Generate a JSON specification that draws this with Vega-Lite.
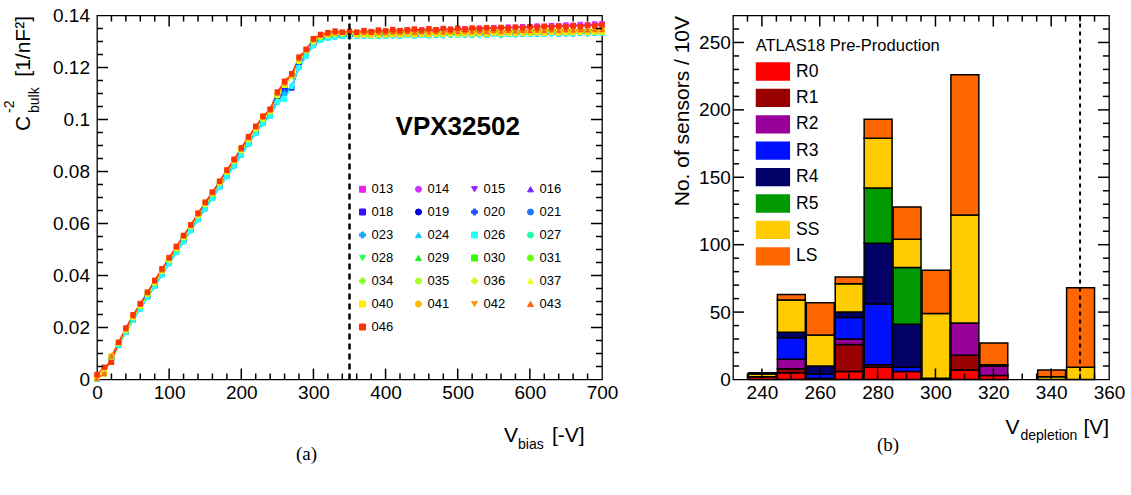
{
  "$schema": "https://vega.github.io/schema/vega-lite/v6.json",
  "background": "white",
  "padding": {"left": 1, "top": 5.5, "right": 2, "bottom": 2},
  "bounds": "flush",
  "spacing": 131,
  "config": {
    "font": "Liberation Sans",
    "view": {"stroke": "black", "strokeWidth": 1.3},
    "axis": {"grid": false, "domain": false, "ticks": false, "tickSize": 0, "labelColor": "black", "labelFont": "Liberation Sans", "labelFontSize": 19, "titleColor": "black", "titleFont": "Liberation Sans", "titleFontWeight": "normal", "labelFlush": false, "labelOverlap": false},
    "legend": {"labelColor": "black", "titleColor": "black", "labelFont": "Liberation Sans", "titleFont": "Liberation Sans"}
  },
  "resolve": {"scale": {"color": "independent", "shape": "independent", "x": "independent", "y": "independent"}, "legend": {"color": "independent", "shape": "independent"}},
  "datasets": {
    "lxmaj": [{"t": 100}, {"t": 200}, {"t": 300}, {"t": 400}, {"t": 500}, {"t": 600}],
    "lxmin": [{"t": 20}, {"t": 40}, {"t": 60}, {"t": 80}, {"t": 120}, {"t": 140}, {"t": 160}, {"t": 180}, {"t": 220}, {"t": 240}, {"t": 260}, {"t": 280}, {"t": 320}, {"t": 340}, {"t": 360}, {"t": 380}, {"t": 420}, {"t": 440}, {"t": 460}, {"t": 480}, {"t": 520}, {"t": 540}, {"t": 560}, {"t": 580}, {"t": 620}, {"t": 640}, {"t": 660}, {"t": 680}],
    "lymaj": [{"t": 0.02}, {"t": 0.04}, {"t": 0.06}, {"t": 0.08}, {"t": 0.1}, {"t": 0.12}],
    "lymin": [{"t": 0.005}, {"t": 0.01}, {"t": 0.015}, {"t": 0.025}, {"t": 0.03}, {"t": 0.035}, {"t": 0.045}, {"t": 0.05}, {"t": 0.055}, {"t": 0.065}, {"t": 0.07}, {"t": 0.075}, {"t": 0.085}, {"t": 0.09}, {"t": 0.095}, {"t": 0.105}, {"t": 0.11}, {"t": 0.115}, {"t": 0.125}, {"t": 0.13}, {"t": 0.135}],
    "rxmaj": [{"t": 240}, {"t": 260}, {"t": 280}, {"t": 300}, {"t": 320}, {"t": 340}],
    "rxmin": [{"t": 235}, {"t": 245}, {"t": 250}, {"t": 255}, {"t": 265}, {"t": 270}, {"t": 275}, {"t": 285}, {"t": 290}, {"t": 295}, {"t": 305}, {"t": 310}, {"t": 315}, {"t": 325}, {"t": 330}, {"t": 335}, {"t": 345}, {"t": 350}, {"t": 355}],
    "rymaj": [{"t": 50}, {"t": 100}, {"t": 150}, {"t": 200}, {"t": 250}],
    "rymin": [{"t": 10}, {"t": 20}, {"t": 30}, {"t": 40}, {"t": 60}, {"t": 70}, {"t": 80}, {"t": 90}, {"t": 110}, {"t": 120}, {"t": 130}, {"t": 140}, {"t": 160}, {"t": 170}, {"t": 180}, {"t": 190}, {"t": 210}, {"t": 220}, {"t": 230}, {"t": 240}, {"t": 260}],
    "cv": [
      {"s": "013", "v": [0,10,20,30,40,50,60,70,80,90,100,110,120,130,140,150,160,170,180,190,200,210,220,230,240,250,260,270,280,290,300,310,320,330,340,350,360,370,380,390,400,410,420,430,440,450,460,470,480,490,500,510,520,530,540,550,560,570,580,590,600,610,620,630,640,650,660,670,680,690,700], "c": [0.0008,0.003,0.0085,0.014,0.019,0.0238,0.0283,0.0328,0.0372,0.0416,0.046,0.0503,0.0546,0.0588,0.0631,0.0673,0.0714,0.0756,0.0797,0.0839,0.0881,0.0923,0.0964,0.1002,0.1031,0.1092,0.1132,0.1168,0.1225,0.1265,0.13,0.1318,0.1324,0.1328,0.133,0.1331,0.1333,0.1335,0.1334,0.1337,0.1336,0.1339,0.1338,0.1341,0.134,0.1343,0.1342,0.1345,0.1344,0.1347,0.1346,0.1349,0.1348,0.1351,0.135,0.1353,0.1352,0.1355,0.1354,0.1357,0.1356,0.1359,0.1358,0.1361,0.136,0.1363,0.1362,0.1365,0.1364,0.1367,0.1368]},
      {"s": "014", "v": [0,10,20,30,40,50,60,70,80,90,100,110,120,130,140,150,160,170,180,190,200,210,220,230,240,250,260,270,280,290,300,310,320,330,340,350,360,370,380,390,400,410,420,430,440,450,460,470,480,490,500,510,520,530,540,550,560,570,580,590,600,610,620,630,640,650,660,670,680,690,700], "c": [0.0008,0.003,0.0085,0.014,0.019,0.0238,0.0283,0.0328,0.0372,0.0416,0.046,0.0503,0.0546,0.0588,0.0631,0.0673,0.0714,0.0756,0.0797,0.0839,0.0881,0.0923,0.0964,0.1002,0.1031,0.1092,0.1132,0.1168,0.1225,0.1265,0.13,0.1318,0.1324,0.1328,0.133,0.1331,0.1333,0.1335,0.1334,0.1337,0.1336,0.1339,0.1338,0.1341,0.134,0.1343,0.1342,0.1345,0.1344,0.1347,0.1346,0.1349,0.1348,0.1351,0.135,0.1353,0.1352,0.1355,0.1354,0.1357,0.1356,0.1359,0.1358,0.1361,0.136,0.1363,0.1362,0.1365,0.1364,0.1367,0.1368]},
      {"s": "015", "v": [0,10,20,30,40,50,60,70,80,90,100,110,120,130,140,150,160,170,180,190,200,210,220,230,240,250,260,270,280,290,300,310,320,330,340,350,360,370,380,390,400,410,420,430,440,450,460,470,480,490,500,510,520,530,540,550,560,570,580,590,600,610,620,630,640,650,660,670,680,690,700], "c": [0.0008,0.003,0.0085,0.014,0.019,0.0238,0.0283,0.0328,0.0372,0.0416,0.046,0.0503,0.0546,0.0588,0.0631,0.0673,0.0714,0.0756,0.0797,0.0839,0.0881,0.0923,0.0964,0.1002,0.1031,0.1092,0.1132,0.1168,0.1225,0.1265,0.13,0.1318,0.1324,0.1328,0.133,0.1331,0.133,0.1331,0.1329,0.1331,0.133,0.1332,0.1331,0.1333,0.1331,0.1333,0.1332,0.1334,0.1332,0.1335,0.1333,0.1335,0.1334,0.1336,0.1334,0.1337,0.1335,0.1337,0.1336,0.1338,0.1337,0.1339,0.1337,0.134,0.1338,0.134,0.1339,0.1341,0.134,0.1342,0.1341]},
      {"s": "016", "v": [0,10,20,30,40,50,60,70,80,90,100,110,120,130,140,150,160,170,180,190,200,210,220,230,240,250,260,270,280,290,300,310,320,330,340,350,360,370,380,390,400,410,420,430,440,450,460,470,480,490,500,510,520,530,540,550,560,570,580,590,600,610,620,630,640,650,660,670,680,690,700], "c": [0.0008,0.003,0.0085,0.014,0.019,0.0238,0.0283,0.0328,0.0372,0.0416,0.046,0.0503,0.0546,0.0588,0.0631,0.0673,0.0714,0.0756,0.0797,0.0839,0.0881,0.0923,0.0964,0.1002,0.1031,0.1092,0.1132,0.1168,0.1225,0.1265,0.13,0.1318,0.1324,0.1328,0.133,0.1331,0.1325,0.1326,0.1324,0.1326,0.1325,0.1327,0.1326,0.1328,0.1326,0.1328,0.1327,0.1329,0.1327,0.133,0.1328,0.133,0.1329,0.1331,0.1329,0.1332,0.133,0.1332,0.1331,0.1333,0.1332,0.1334,0.1332,0.1335,0.1333,0.1335,0.1334,0.1336,0.1335,0.1337,0.1336]},
      {"s": "018", "v": [0,10,20,30,40,50,60,70,80,90,100,110,120,130,140,150,160,170,180,190,200,210,220,230,240,250,260,270,280,290,300,310,320,330,340,350,360,370,380,390,400,410,420,430,440,450,460,470,480,490,500,510,520,530,540,550,560,570,580,590,600,610,620,630,640,650,660,670,680,690,700], "c": [0.0003,0.0027,0.0083,0.0135,0.0184,0.023,0.0274,0.0318,0.0361,0.0405,0.0448,0.0491,0.0533,0.0575,0.0617,0.0659,0.07,0.0742,0.0783,0.0824,0.0866,0.0908,0.0949,0.0988,0.1016,0.1075,0.1112,0.1122,0.1205,0.125,0.129,0.131,0.1318,0.1322,0.1324,0.1325,0.1325,0.1326,0.1324,0.1326,0.1325,0.1327,0.1326,0.1328,0.1326,0.1328,0.1327,0.1329,0.1327,0.133,0.1328,0.133,0.1329,0.1331,0.1329,0.1332,0.133,0.1332,0.1331,0.1333,0.1332,0.1334,0.1332,0.1335,0.1333,0.1335,0.1334,0.1336,0.1335,0.1337,0.1336]},
      {"s": "019", "v": [0,10,20,30,40,50,60,70,80,90,100,110,120,130,140,150,160,170,180,190,200,210,220,230,240,250,260,270,280,290,300,310,320,330,340,350,360,370,380,390,400,410,420,430,440,450,460,470,480,490,500,510,520,530,540,550,560,570,580,590,600,610,620,630,640,650,660,670,680,690,700], "c": [0.0003,0.0027,0.0083,0.0135,0.0184,0.023,0.0274,0.0318,0.0361,0.0405,0.0448,0.0491,0.0533,0.0575,0.0617,0.0659,0.07,0.0742,0.0783,0.0824,0.0866,0.0908,0.0949,0.0988,0.1016,0.1075,0.1112,0.1122,0.1205,0.125,0.129,0.131,0.1318,0.1322,0.1324,0.1325,0.1321,0.1322,0.132,0.1322,0.1321,0.1323,0.1322,0.1324,0.1322,0.1324,0.1323,0.1325,0.1323,0.1326,0.1324,0.1326,0.1325,0.1327,0.1325,0.1328,0.1326,0.1328,0.1327,0.1329,0.1328,0.133,0.1328,0.1331,0.1329,0.1331,0.133,0.1332,0.1331,0.1333,0.1332]},
      {"s": "020", "v": [0,10,20,30,40,50,60,70,80,90,100,110,120,130,140,150,160,170,180,190,200,210,220,230,240,250,260,270,280,290,300,310,320,330,340,350,360,370,380,390,400,410,420,430,440,450,460,470,480,490,500,510,520,530,540,550,560,570,580,590,600,610,620,630,640,650,660,670,680,690,700], "c": [0.0003,0.0027,0.0083,0.0135,0.0184,0.023,0.0274,0.0318,0.0361,0.0405,0.0448,0.0491,0.0533,0.0575,0.0617,0.0659,0.07,0.0742,0.0783,0.0824,0.0866,0.0908,0.0949,0.0988,0.1016,0.1075,0.1112,0.1122,0.1205,0.125,0.129,0.131,0.1318,0.1322,0.1324,0.1325,0.1325,0.1326,0.1324,0.1326,0.1325,0.1327,0.1326,0.1328,0.1326,0.1328,0.1327,0.1329,0.1327,0.133,0.1328,0.133,0.1329,0.1331,0.1329,0.1332,0.133,0.1332,0.1331,0.1333,0.1332,0.1334,0.1332,0.1335,0.1333,0.1335,0.1334,0.1336,0.1335,0.1337,0.1336]},
      {"s": "021", "v": [0,10,20,30,40,50,60,70,80,90,100,110,120,130,140,150,160,170,180,190,200,210,220,230,240,250,260,270,280,290,300,310,320,330,340,350,360,370,380,390,400,410,420,430,440,450,460,470,480,490,500,510,520,530,540,550,560,570,580,590,600,610,620,630,640,650,660,670,680,690,700], "c": [0.0002,0.0025,0.008,0.0133,0.0182,0.0228,0.0272,0.0316,0.0359,0.0403,0.0446,0.0489,0.0531,0.0573,0.0615,0.0657,0.0698,0.074,0.0781,0.0822,0.0864,0.0906,0.0947,0.0985,0.1013,0.1068,0.11,0.1128,0.12,0.1245,0.1285,0.1305,0.1313,0.1318,0.132,0.1321,0.1321,0.1322,0.132,0.1322,0.1321,0.1323,0.1322,0.1324,0.1322,0.1324,0.1323,0.1325,0.1323,0.1326,0.1324,0.1326,0.1325,0.1327,0.1325,0.1328,0.1326,0.1328,0.1327,0.1329,0.1328,0.133,0.1328,0.1331,0.1329,0.1331,0.133,0.1332,0.1331,0.1333,0.1332]},
      {"s": "023", "v": [0,10,20,30,40,50,60,70,80,90,100,110,120,130,140,150,160,170,180,190,200,210,220,230,240,250,260,270,280,290,300,310,320,330,340,350,360,370,380,390,400,410,420,430,440,450,460,470,480,490,500,510,520,530,540,550,560,570,580,590,600,610,620,630,640,650,660,670,680,690,700], "c": [0.0002,0.0025,0.008,0.0133,0.0182,0.0228,0.0272,0.0316,0.0359,0.0403,0.0446,0.0489,0.0531,0.0573,0.0615,0.0657,0.0698,0.074,0.0781,0.0822,0.0864,0.0906,0.0947,0.0985,0.1013,0.1068,0.11,0.1128,0.12,0.1245,0.1285,0.1305,0.1313,0.1318,0.132,0.1321,0.1321,0.1322,0.132,0.1322,0.1321,0.1323,0.1322,0.1324,0.1322,0.1324,0.1323,0.1325,0.1323,0.1326,0.1324,0.1326,0.1325,0.1327,0.1325,0.1328,0.1326,0.1328,0.1327,0.1329,0.1328,0.133,0.1328,0.1331,0.1329,0.1331,0.133,0.1332,0.1331,0.1333,0.1332]},
      {"s": "024", "v": [0,10,20,30,40,50,60,70,80,90,100,110,120,130,140,150,160,170,180,190,200,210,220,230,240,250,260,270,280,290,300,310,320,330,340,350,360,370,380,390,400,410,420,430,440,450,460,470,480,490,500,510,520,530,540,550,560,570,580,590,600,610,620,630,640,650,660,670,680,690,700], "c": [0.0002,0.0025,0.008,0.0133,0.0182,0.0228,0.0272,0.0316,0.0359,0.0403,0.0446,0.0489,0.0531,0.0573,0.0615,0.0657,0.0698,0.074,0.0781,0.0822,0.0864,0.0906,0.0947,0.0985,0.1013,0.1068,0.11,0.1128,0.12,0.1245,0.1285,0.1305,0.1313,0.1318,0.132,0.1321,0.1321,0.1322,0.132,0.1322,0.1321,0.1323,0.1322,0.1324,0.1322,0.1324,0.1323,0.1325,0.1323,0.1326,0.1324,0.1326,0.1325,0.1327,0.1325,0.1328,0.1326,0.1328,0.1327,0.1329,0.1328,0.133,0.1328,0.1331,0.1329,0.1331,0.133,0.1332,0.1331,0.1333,0.1332]},
      {"s": "026", "v": [0,10,20,30,40,50,60,70,80,90,100,110,120,130,140,150,160,170,180,190,200,210,220,230,240,250,260,270,280,290,300,310,320,330,340,350,360,370,380,390,400,410,420,430,440,450,460,470,480,490,500,510,520,530,540,550,560,570,580,590,600,610,620,630,640,650,660,670,680,690,700], "c": [0.0002,0.0025,0.008,0.0133,0.0182,0.0228,0.0272,0.0316,0.0359,0.0403,0.0446,0.0489,0.0531,0.0573,0.0615,0.0657,0.0698,0.074,0.0781,0.0822,0.0864,0.0906,0.0947,0.0985,0.1013,0.1068,0.1078,0.1128,0.12,0.1245,0.1285,0.1305,0.1313,0.1318,0.132,0.1321,0.1321,0.1322,0.132,0.1322,0.1321,0.1323,0.1322,0.1324,0.1322,0.1324,0.1323,0.1325,0.1323,0.1326,0.1324,0.1326,0.1325,0.1327,0.1325,0.1328,0.1326,0.1328,0.1327,0.1329,0.1328,0.133,0.1328,0.1331,0.1329,0.1331,0.133,0.1332,0.1331,0.1333,0.1332]},
      {"s": "027", "v": [0,10,20,30,40,50,60,70,80,90,100,110,120,130,140,150,160,170,180,190,200,210,220,230,240,250,260,270,280,290,300,310,320,330,340,350,360,370,380,390,400,410,420,430,440,450,460,470,480,490,500,510,520,530,540,550,560,570,580,590,600,610,620,630,640,650,660,670,680,690,700], "c": [0.0008,0.003,0.0085,0.014,0.019,0.0238,0.0283,0.0328,0.0372,0.0416,0.046,0.0503,0.0546,0.0588,0.0631,0.0673,0.0714,0.0756,0.0797,0.0839,0.0881,0.0923,0.0964,0.1002,0.1031,0.1092,0.1132,0.1168,0.1225,0.1265,0.13,0.1318,0.1324,0.1328,0.133,0.1331,0.1325,0.1326,0.1324,0.1326,0.1325,0.1327,0.1326,0.1328,0.1326,0.1328,0.1327,0.1329,0.1327,0.133,0.1328,0.133,0.1329,0.1331,0.1329,0.1332,0.133,0.1332,0.1331,0.1333,0.1332,0.1334,0.1332,0.1335,0.1333,0.1335,0.1334,0.1336,0.1335,0.1337,0.1336]},
      {"s": "028", "v": [0,10,20,30,40,50,60,70,80,90,100,110,120,130,140,150,160,170,180,190,200,210,220,230,240,250,260,270,280,290,300,310,320,330,340,350,360,370,380,390,400,410,420,430,440,450,460,470,480,490,500,510,520,530,540,550,560,570,580,590,600,610,620,630,640,650,660,670,680,690,700], "c": [0.0008,0.003,0.0085,0.014,0.019,0.0238,0.0283,0.0328,0.0372,0.0416,0.046,0.0503,0.0546,0.0588,0.0631,0.0673,0.0714,0.0756,0.0797,0.0839,0.0881,0.0923,0.0964,0.1002,0.1031,0.1092,0.1132,0.1168,0.1225,0.1265,0.13,0.1318,0.1324,0.1328,0.133,0.1331,0.133,0.1331,0.1329,0.1331,0.133,0.1332,0.1331,0.1333,0.1331,0.1333,0.1332,0.1334,0.1332,0.1335,0.1333,0.1335,0.1334,0.1336,0.1334,0.1337,0.1335,0.1337,0.1336,0.1338,0.1337,0.1339,0.1337,0.134,0.1338,0.134,0.1339,0.1341,0.134,0.1342,0.1341]},
      {"s": "029", "v": [0,10,20,30,40,50,60,70,80,90,100,110,120,130,140,150,160,170,180,190,200,210,220,230,240,250,260,270,280,290,300,310,320,330,340,350,360,370,380,390,400,410,420,430,440,450,460,470,480,490,500,510,520,530,540,550,560,570,580,590,600,610,620,630,640,650,660,670,680,690,700], "c": [0.0008,0.003,0.0085,0.014,0.019,0.0238,0.0283,0.0328,0.0372,0.0416,0.046,0.0503,0.0546,0.0588,0.0631,0.0673,0.0714,0.0756,0.0797,0.0839,0.0881,0.0923,0.0964,0.1002,0.1031,0.1092,0.1132,0.1168,0.1225,0.1265,0.13,0.1318,0.1324,0.1328,0.133,0.1331,0.133,0.1331,0.1329,0.1331,0.133,0.1332,0.1331,0.1333,0.1331,0.1333,0.1332,0.1334,0.1332,0.1335,0.1333,0.1335,0.1334,0.1336,0.1334,0.1337,0.1335,0.1337,0.1336,0.1338,0.1337,0.1339,0.1337,0.134,0.1338,0.134,0.1339,0.1341,0.134,0.1342,0.1341]},
      {"s": "030", "v": [0,10,20,30,40,50,60,70,80,90,100,110,120,130,140,150,160,170,180,190,200,210,220,230,240,250,260,270,280,290,300,310,320,330,340,350,360,370,380,390,400,410,420,430,440,450,460,470,480,490,500,510,520,530,540,550,560,570,580,590,600,610,620,630,640,650,660,670,680,690,700], "c": [0.0008,0.003,0.0085,0.014,0.019,0.0238,0.0283,0.0328,0.0372,0.0416,0.046,0.0503,0.0546,0.0588,0.0631,0.0673,0.0714,0.0756,0.0797,0.0839,0.0881,0.0923,0.0964,0.1002,0.1031,0.1092,0.1132,0.1168,0.1225,0.1265,0.13,0.1318,0.1324,0.1328,0.133,0.1331,0.133,0.1331,0.1329,0.1331,0.133,0.1332,0.1331,0.1333,0.1331,0.1333,0.1332,0.1334,0.1332,0.1335,0.1333,0.1335,0.1334,0.1336,0.1334,0.1337,0.1335,0.1337,0.1336,0.1338,0.1337,0.1339,0.1337,0.134,0.1338,0.134,0.1339,0.1341,0.134,0.1342,0.1341]},
      {"s": "031", "v": [0,10,20,30,40,50,60,70,80,90,100,110,120,130,140,150,160,170,180,190,200,210,220,230,240,250,260,270,280,290,300,310,320,330,340,350,360,370,380,390,400,410,420,430,440,450,460,470,480,490,500,510,520,530,540,550,560,570,580,590,600,610,620,630,640,650,660,670,680,690,700], "c": [0.0008,0.003,0.0085,0.014,0.019,0.0238,0.0283,0.0328,0.0372,0.0416,0.046,0.0503,0.0546,0.0588,0.0631,0.0673,0.0714,0.0756,0.0797,0.0839,0.0881,0.0923,0.0964,0.1002,0.1031,0.1092,0.1132,0.1168,0.1225,0.1265,0.13,0.1318,0.1324,0.1328,0.133,0.1331,0.1335,0.1336,0.1334,0.1336,0.1335,0.1337,0.1336,0.1338,0.1336,0.1338,0.1337,0.1339,0.1337,0.134,0.1338,0.134,0.1339,0.1341,0.1339,0.1342,0.134,0.1342,0.1341,0.1343,0.1342,0.1344,0.1342,0.1345,0.1343,0.1345,0.1344,0.1346,0.1345,0.1347,0.1346]},
      {"s": "034", "v": [0,10,20,30,40,50,60,70,80,90,100,110,120,130,140,150,160,170,180,190,200,210,220,230,240,250,260,270,280,290,300,310,320,330,340,350,360,370,380,390,400,410,420,430,440,450,460,470,480,490,500,510,520,530,540,550,560,570,580,590,600,610,620,630,640,650,660,670,680,690,700], "c": [0.0008,0.003,0.0085,0.014,0.019,0.0238,0.0283,0.0328,0.0372,0.0416,0.046,0.0503,0.0546,0.0588,0.0631,0.0673,0.0714,0.0756,0.0797,0.0839,0.0881,0.0923,0.0964,0.1002,0.1031,0.1092,0.1132,0.1168,0.1225,0.1265,0.13,0.1318,0.1324,0.1328,0.133,0.1331,0.133,0.1331,0.1329,0.1331,0.133,0.1332,0.1331,0.1333,0.1331,0.1333,0.1332,0.1334,0.1332,0.1335,0.1333,0.1335,0.1334,0.1336,0.1334,0.1337,0.1335,0.1337,0.1336,0.1338,0.1337,0.1339,0.1337,0.134,0.1338,0.134,0.1339,0.1341,0.134,0.1342,0.1341]},
      {"s": "035", "v": [0,10,20,30,40,50,60,70,80,90,100,110,120,130,140,150,160,170,180,190,200,210,220,230,240,250,260,270,280,290,300,310,320,330,340,350,360,370,380,390,400,410,420,430,440,450,460,470,480,490,500,510,520,530,540,550,560,570,580,590,600,610,620,630,640,650,660,670,680,690,700], "c": [0.0008,0.003,0.0085,0.014,0.019,0.0238,0.0283,0.0328,0.0372,0.0416,0.046,0.0503,0.0546,0.0588,0.0631,0.0673,0.0714,0.0756,0.0797,0.0839,0.0881,0.0923,0.0964,0.1002,0.1031,0.1092,0.1132,0.1168,0.1225,0.1265,0.13,0.1318,0.1324,0.1328,0.133,0.1331,0.1335,0.1336,0.1334,0.1336,0.1335,0.1337,0.1336,0.1338,0.1336,0.1338,0.1337,0.1339,0.1337,0.134,0.1338,0.134,0.1339,0.1341,0.1339,0.1342,0.134,0.1342,0.1341,0.1343,0.1342,0.1344,0.1342,0.1345,0.1343,0.1345,0.1344,0.1346,0.1345,0.1347,0.1346]},
      {"s": "036", "v": [0,10,20,30,40,50,60,70,80,90,100,110,120,130,140,150,160,170,180,190,200,210,220,230,240,250,260,270,280,290,300,310,320,330,340,350,360,370,380,390,400,410,420,430,440,450,460,470,480,490,500,510,520,530,540,550,560,570,580,590,600,610,620,630,640,650,660,670,680,690,700], "c": [0.0008,0.003,0.0085,0.014,0.019,0.0238,0.0283,0.0328,0.0372,0.0416,0.046,0.0503,0.0546,0.0588,0.0631,0.0673,0.0714,0.0756,0.0797,0.0839,0.0881,0.0923,0.0964,0.1002,0.1031,0.1092,0.1132,0.1168,0.1225,0.1265,0.13,0.1318,0.1324,0.1328,0.133,0.1331,0.1335,0.1336,0.1334,0.1336,0.1335,0.1337,0.1336,0.1338,0.1336,0.1338,0.1337,0.1339,0.1337,0.134,0.1338,0.134,0.1339,0.1341,0.1339,0.1342,0.134,0.1342,0.1341,0.1343,0.1342,0.1344,0.1342,0.1345,0.1343,0.1345,0.1344,0.1346,0.1345,0.1347,0.1346]},
      {"s": "037", "v": [0,10,20,30,40,50,60,70,80,90,100,110,120,130,140,150,160,170,180,190,200,210,220,230,240,250,260,270,280,290,300,310,320,330,340,350,360,370,380,390,400,410,420,430,440,450,460,470,480,490,500,510,520,530,540,550,560,570,580,590,600,610,620,630,640,650,660,670,680,690,700], "c": [0.0008,0.003,0.0085,0.014,0.019,0.0238,0.0283,0.0328,0.0372,0.0416,0.046,0.0503,0.0546,0.0588,0.0631,0.0673,0.0714,0.0756,0.0797,0.0839,0.0881,0.0923,0.0964,0.1002,0.1031,0.1092,0.1132,0.1168,0.1225,0.1265,0.13,0.1318,0.1324,0.1328,0.133,0.1331,0.133,0.1331,0.1329,0.1331,0.133,0.1332,0.1331,0.1333,0.1331,0.1333,0.1332,0.1334,0.1332,0.1335,0.1333,0.1335,0.1334,0.1336,0.1334,0.1337,0.1335,0.1337,0.1336,0.1338,0.1337,0.1339,0.1337,0.134,0.1338,0.134,0.1339,0.1341,0.134,0.1342,0.1341]},
      {"s": "040", "v": [0,10,20,30,40,50,60,70,80,90,100,110,120,130,140,150,160,170,180,190,200,210,220,230,240,250,260,270,280,290,300,310,320,330,340,350,360,370,380,390,400,410,420,430,440,450,460,470,480,490,500,510,520,530,540,550,560,570,580,590,600,610,620,630,640,650,660,670,680,690,700], "c": [0.0004,0.0022,0.009,0.0142,0.0194,0.0243,0.0288,0.0333,0.0377,0.0421,0.0465,0.0508,0.0551,0.0592,0.0636,0.0678,0.0718,0.076,0.0802,0.0843,0.0886,0.0929,0.097,0.1008,0.1036,0.11,0.114,0.1172,0.1233,0.1268,0.1306,0.1323,0.1329,0.1333,0.1334,0.1335,0.1325,0.1326,0.1324,0.1326,0.1325,0.1327,0.1326,0.1328,0.1326,0.1328,0.1327,0.1329,0.1327,0.133,0.1328,0.133,0.1329,0.1331,0.1329,0.1332,0.133,0.1332,0.1331,0.1333,0.1332,0.1334,0.1332,0.1335,0.1333,0.1335,0.1334,0.1336,0.1335,0.1337,0.1336]},
      {"s": "041", "v": [0,10,20,30,40,50,60,70,80,90,100,110,120,130,140,150,160,170,180,190,200,210,220,230,240,250,260,270,280,290,300,310,320,330,340,350,360,370,380,390,400,410,420,430,440,450,460,470,480,490,500,510,520,530,540,550,560,570,580,590,600,610,620,630,640,650,660,670,680,690,700], "c": [0.0004,0.0022,0.009,0.0142,0.0194,0.0243,0.0288,0.0333,0.0377,0.0421,0.0465,0.0508,0.0551,0.0592,0.0636,0.0678,0.0718,0.076,0.0802,0.0843,0.0886,0.0929,0.097,0.1008,0.1036,0.11,0.114,0.1172,0.1233,0.1268,0.1306,0.1323,0.1329,0.1333,0.1334,0.1335,0.133,0.1331,0.1329,0.1331,0.133,0.1332,0.1331,0.1333,0.1331,0.1333,0.1332,0.1334,0.1332,0.1335,0.1333,0.1335,0.1334,0.1336,0.1334,0.1337,0.1335,0.1337,0.1336,0.1338,0.1337,0.1339,0.1337,0.134,0.1338,0.134,0.1339,0.1341,0.134,0.1342,0.1341]},
      {"s": "042", "v": [0,10,20,30,40,50,60,70,80,90,100,110,120,130,140,150,160,170,180,190,200,210,220,230,240,250,260,270,280,290,300,310,320,330,340,350,360,370,380,390,400,410,420,430,440,450,460,470,480,490,500,510,520,530,540,550,560,570,580,590,600,610,620,630,640,650,660,670,680,690,700], "c": [0.0004,0.0022,0.009,0.0142,0.0194,0.0243,0.0288,0.0333,0.0377,0.0421,0.0465,0.0508,0.0551,0.0592,0.0636,0.0678,0.0718,0.076,0.0802,0.0843,0.0886,0.0929,0.097,0.1008,0.1036,0.11,0.114,0.1172,0.1233,0.1268,0.1306,0.1323,0.1329,0.1333,0.1334,0.1335,0.1335,0.1336,0.1334,0.1336,0.1335,0.1337,0.1336,0.1338,0.1336,0.1338,0.1337,0.1339,0.1337,0.134,0.1338,0.134,0.1339,0.1341,0.1339,0.1342,0.134,0.1342,0.1341,0.1343,0.1342,0.1344,0.1342,0.1345,0.1343,0.1345,0.1344,0.1346,0.1345,0.1347,0.1346]},
      {"s": "043", "v": [0,10,20,30,40,50,60,70,80,90,100,110,120,130,140,150,160,170,180,190,200,210,220,230,240,250,260,270,280,290,300,310,320,330,340,350,360,370,380,390,400,410,420,430,440,450,460,470,480,490,500,510,520,530,540,550,560,570,580,590,600,610,620,630,640,650,660,670,680,690,700], "c": [0.0004,0.0022,0.009,0.0142,0.0194,0.0243,0.0288,0.0333,0.0377,0.0421,0.0465,0.0508,0.0551,0.0592,0.0636,0.0678,0.0718,0.076,0.0802,0.0843,0.0886,0.0929,0.097,0.1008,0.1036,0.11,0.114,0.1172,0.1233,0.1268,0.1306,0.1323,0.1329,0.1333,0.1334,0.1335,0.1335,0.1336,0.1334,0.1336,0.1335,0.1337,0.1336,0.1338,0.1336,0.1338,0.1337,0.1339,0.1337,0.134,0.1338,0.134,0.1339,0.1341,0.1339,0.1342,0.134,0.1342,0.1341,0.1343,0.1342,0.1344,0.1342,0.1345,0.1343,0.1345,0.1344,0.1346,0.1345,0.1347,0.1346]},
      {"s": "046", "v": [0,10,20,30,40,50,60,70,80,90,100,110,120,130,140,150,160,170,180,190,200,210,220,230,240,250,260,270,280,290,300,310,320,330,340,350,360,370,380,390,400,410,420,430,440,450,460,470,480,490,500,510,520,530,540,550,560,570,580,590,600,610,620,630,640,650,660,670,680,690,700], "c": [0.0019,0.0047,0.0066,0.0143,0.0198,0.0249,0.0292,0.0336,0.0381,0.0426,0.0469,0.0512,0.0554,0.0595,0.064,0.0682,0.0721,0.0763,0.0806,0.0847,0.0891,0.0934,0.0974,0.1013,0.104,0.1106,0.1147,0.1176,0.124,0.127,0.1311,0.1327,0.1334,0.134,0.1336,0.1339,0.1336,0.1342,0.1338,0.1344,0.1341,0.1346,0.1342,0.1345,0.1348,0.1344,0.1349,0.1345,0.135,0.1346,0.1351,0.1347,0.1352,0.1349,0.1353,0.135,0.1354,0.1351,0.1355,0.1352,0.1357,0.1354,0.1358,0.1355,0.1359,0.1356,0.136,0.1357,0.1362,0.136,0.1364]}
    ],
    "hist": [
      {"lo": 235, "hi": 245, "cat": "R0", "k": 0, "n": 2},
      {"lo": 235, "hi": 245, "cat": "SS", "k": 6, "n": 2},
      {"lo": 235, "hi": 245, "cat": "LS", "k": 7, "n": 1},
      {"lo": 245, "hi": 255, "cat": "R0", "k": 0, "n": 5},
      {"lo": 245, "hi": 255, "cat": "R1", "k": 1, "n": 3},
      {"lo": 245, "hi": 255, "cat": "R2", "k": 2, "n": 7},
      {"lo": 245, "hi": 255, "cat": "R3", "k": 3, "n": 16},
      {"lo": 245, "hi": 255, "cat": "R4", "k": 4, "n": 4},
      {"lo": 245, "hi": 255, "cat": "SS", "k": 6, "n": 24},
      {"lo": 245, "hi": 255, "cat": "LS", "k": 7, "n": 4},
      {"lo": 255, "hi": 265, "cat": "R0", "k": 0, "n": 1},
      {"lo": 255, "hi": 265, "cat": "R3", "k": 3, "n": 3},
      {"lo": 255, "hi": 265, "cat": "R4", "k": 4, "n": 6},
      {"lo": 255, "hi": 265, "cat": "SS", "k": 6, "n": 23},
      {"lo": 255, "hi": 265, "cat": "LS", "k": 7, "n": 24},
      {"lo": 265, "hi": 275, "cat": "R0", "k": 0, "n": 6},
      {"lo": 265, "hi": 275, "cat": "R1", "k": 1, "n": 20},
      {"lo": 265, "hi": 275, "cat": "R2", "k": 2, "n": 4},
      {"lo": 265, "hi": 275, "cat": "R3", "k": 3, "n": 16},
      {"lo": 265, "hi": 275, "cat": "R4", "k": 4, "n": 4},
      {"lo": 265, "hi": 275, "cat": "SS", "k": 6, "n": 21},
      {"lo": 265, "hi": 275, "cat": "LS", "k": 7, "n": 5},
      {"lo": 275, "hi": 285, "cat": "R0", "k": 0, "n": 9},
      {"lo": 275, "hi": 285, "cat": "R1", "k": 1, "n": 2},
      {"lo": 275, "hi": 285, "cat": "R3", "k": 3, "n": 45},
      {"lo": 275, "hi": 285, "cat": "R4", "k": 4, "n": 45},
      {"lo": 275, "hi": 285, "cat": "R5", "k": 5, "n": 41},
      {"lo": 275, "hi": 285, "cat": "SS", "k": 6, "n": 37},
      {"lo": 275, "hi": 285, "cat": "LS", "k": 7, "n": 14},
      {"lo": 285, "hi": 295, "cat": "R0", "k": 0, "n": 6},
      {"lo": 285, "hi": 295, "cat": "R3", "k": 3, "n": 3},
      {"lo": 285, "hi": 295, "cat": "R4", "k": 4, "n": 32},
      {"lo": 285, "hi": 295, "cat": "R5", "k": 5, "n": 42},
      {"lo": 285, "hi": 295, "cat": "SS", "k": 6, "n": 21},
      {"lo": 285, "hi": 295, "cat": "LS", "k": 7, "n": 24},
      {"lo": 295, "hi": 305, "cat": "R4", "k": 4, "n": 1},
      {"lo": 295, "hi": 305, "cat": "SS", "k": 6, "n": 48},
      {"lo": 295, "hi": 305, "cat": "LS", "k": 7, "n": 32},
      {"lo": 305, "hi": 315, "cat": "R0", "k": 0, "n": 7},
      {"lo": 305, "hi": 315, "cat": "R1", "k": 1, "n": 11},
      {"lo": 305, "hi": 315, "cat": "R2", "k": 2, "n": 24},
      {"lo": 305, "hi": 315, "cat": "SS", "k": 6, "n": 80},
      {"lo": 305, "hi": 315, "cat": "LS", "k": 7, "n": 104},
      {"lo": 315, "hi": 325, "cat": "R0", "k": 0, "n": 3},
      {"lo": 315, "hi": 325, "cat": "R2", "k": 2, "n": 7},
      {"lo": 315, "hi": 325, "cat": "R4", "k": 4, "n": 1},
      {"lo": 315, "hi": 325, "cat": "LS", "k": 7, "n": 16},
      {"lo": 335, "hi": 345, "cat": "SS", "k": 6, "n": 2},
      {"lo": 335, "hi": 345, "cat": "LS", "k": 7, "n": 5},
      {"lo": 345, "hi": 355, "cat": "SS", "k": 6, "n": 9},
      {"lo": 345, "hi": 355, "cat": "LS", "k": 7, "n": 59}
    ]
  },
  "hconcat": [
    {
      "width": 505,
      "height": 364,
      "title": {"text": "(a)", "orient": "bottom", "anchor": "middle", "dx": -43, "offset": -7, "font": "Liberation Serif", "fontSize": 19, "fontWeight": "normal", "color": "black"},
      "resolve": {"axis": {"x": "independent", "y": "independent"}},
      "layer": [
        {
          "data": {"name": "cv"},
          "transform": [{"flatten": ["v", "c"]}],
          "mark": {"type": "line", "strokeWidth": 1.3},
          "encoding": {
            "x": {"field": "v", "type": "quantitative", "scale": {"domain": [0, 700], "nice": false, "zero": false},
              "axis": {"orient": "bottom", "values": [0,100,200,300,400,500,600,700], "labelPadding": 4, "format": "d", "title": "V", "titleFontSize": 21, "titleAngle": 0, "titleAlign": "left", "titleBaseline": "alphabetic", "titleX": 406.5, "titleY": 62}},
            "y": {"field": "c", "type": "quantitative", "scale": {"domain": [0, 0.14], "nice": false, "zero": false},
              "axis": {"orient": "left", "values": [0,0.02,0.04,0.06,0.08,0.1,0.12,0.14], "labelPadding": 7.5, "format": ".2~f", "title": "C", "titleFontSize": 21, "titleAngle": 270, "titleAlign": "left", "titleBaseline": "middle", "titleX": -73.5, "titleY": 115}},
            "color": {"field": "s", "type": "nominal",
              "scale": {"domain": ["013","014","015","016","018","019","020","021","023","024","026","027","028","029","030","031","034","035","036","037","040","041","042","043","046"],
                "range": ["#ee22ee","#cc33ff","#9922ff","#7722ff","#3311ff","#0000dd","#2255ff","#2277ff","#11aaff","#11ccff","#22ffff","#22ffaa","#22ff55","#22ee22","#33ff00","#66ff11","#88ff22","#aaff22","#ccff11","#eeff22","#ffee00","#ffbb00","#ff9911","#ff6611","#ff3300"]}}
          }
        },
        {
          "data": {"name": "cv"},
          "transform": [{"flatten": ["v", "c"]}],
          "mark": {"type": "point", "filled": true, "size": 30, "opacity": 1},
          "encoding": {
            "x": {"field": "v", "type": "quantitative", "scale": {"domain": [0, 700], "nice": false, "zero": false},
              "axis": {"orient": "top", "offset": -364, "labels": false, "values": [0], "title": "bias", "titleFontSize": 14, "titleAngle": 0, "titleAlign": "left", "titleBaseline": "alphabetic", "titleX": 420.5, "titleY": 69}},
            "y": {"field": "c", "type": "quantitative", "scale": {"domain": [0, 0.14], "nice": false, "zero": false},
              "axis": {"orient": "right", "offset": -505, "labels": false, "values": [0], "title": "bulk", "titleFontSize": 14, "titleAngle": 270, "titleAlign": "left", "titleBaseline": "middle", "titleX": -62.5, "titleY": 97}},
            "color": {"field": "s", "type": "nominal",
              "scale": {"domain": ["013","014","015","016","018","019","020","021","023","024","026","027","028","029","030","031","034","035","036","037","040","041","042","043","046"],
                "range": ["#ee22ee","#cc33ff","#9922ff","#7722ff","#3311ff","#0000dd","#2255ff","#2277ff","#11aaff","#11ccff","#22ffff","#22ffaa","#22ff55","#22ee22","#33ff00","#66ff11","#88ff22","#aaff22","#ccff11","#eeff22","#ffee00","#ffbb00","#ff9911","#ff6611","#ff3300"]},
              "legend": {"orient": "none", "direction": "horizontal", "legendX": 259, "legendY": 167, "columns": 4, "title": null, "labelFontSize": 13, "symbolSize": 36, "labelOffset": 2.5, "columnPadding": 18, "rowPadding": 9, "padding": 0, "symbolStrokeWidth": 1}},
            "shape": {"field": "s", "type": "nominal",
              "scale": {"domain": ["013","014","015","016","018","019","020","021","023","024","026","027","028","029","030","031","034","035","036","037","040","041","042","043","046"],
                "range": ["square","circle","triangle-down","triangle-up","square","circle","cross","circle","cross","triangle-up","square","circle","triangle-down","triangle-up","square","circle","cross","circle","cross","triangle-up","square","circle","triangle-down","triangle-up","square"]},
              "legend": {"orient": "none", "direction": "horizontal", "legendX": 259, "legendY": 167, "columns": 4, "title": null, "labelFontSize": 13, "symbolSize": 36, "labelOffset": 2.5, "columnPadding": 18, "rowPadding": 9, "padding": 0, "symbolStrokeWidth": 1}}
          }
        },
        {
          "data": {"values": [{}]},
          "mark": {"type": "text", "text": "VPX32502", "fontSize": 26, "fontWeight": "bold", "align": "center", "baseline": "middle", "color": "black"},
          "encoding": {
            "x": {"datum": 500, "type": "quantitative", "scale": {"domain": [0, 700], "nice": false, "zero": false}, "axis": null},
            "y": {"datum": 0.097, "type": "quantitative", "scale": {"domain": [0, 0.14], "nice": false, "zero": false},
              "axis": {"orient": "right", "offset": -505, "labels": false, "values": [0], "title": "-2", "titleFontSize": 14, "titleAngle": 270, "titleAlign": "left", "titleBaseline": "middle", "titleX": -87.5, "titleY": 97}}
          }
        },
        {
          "data": {"values": [{}]},
          "mark": {"type": "rule", "strokeDash": [6, 4], "strokeWidth": 2.5, "color": "black"},
          "encoding": {
            "x": {"datum": 350, "type": "quantitative", "scale": {"domain": [0, 700], "nice": false, "zero": false},
              "axis": {"orient": "bottom", "offset": -364, "labels": false, "values": [0], "title": "[-V]", "titleFontSize": 21, "titleAngle": 0, "titleAlign": "left", "titleBaseline": "alphabetic", "titleX": 454.5, "titleY": 426}},
            "y": {"datum": 0, "type": "quantitative", "scale": {"domain": [0, 0.14], "nice": false, "zero": false},
              "axis": {"orient": "left", "offset": -505, "labels": false, "values": [0], "title": "[1/nF²]", "titleFontSize": 21, "titleAngle": 270, "titleAlign": "right", "titleBaseline": "middle", "titleX": -578.5, "titleY": 0}},
            "y2": {"datum": 0.14}
          }
        },
        {"data": {"name": "lxmaj"}, "mark": {"type": "rule", "color": "black", "strokeWidth": 1.5},
          "encoding": {"x": {"field": "t", "type": "quantitative", "scale": {"domain": [0, 700], "nice": false, "zero": false}, "axis": null}, "y": {"datum": 0, "type": "quantitative", "scale": {"domain": [0, 0.14], "nice": false, "zero": false}, "axis": null}, "y2": {"datum": 0.0042}}},
        {"data": {"name": "lxmaj"}, "mark": {"type": "rule", "color": "black", "strokeWidth": 1.5},
          "encoding": {"x": {"field": "t", "type": "quantitative", "scale": {"domain": [0, 700], "nice": false, "zero": false}, "axis": null}, "y": {"datum": 0.14, "type": "quantitative", "scale": {"domain": [0, 0.14], "nice": false, "zero": false}, "axis": null}, "y2": {"datum": 0.1358}}},
        {"data": {"name": "lxmin"}, "mark": {"type": "rule", "color": "black", "strokeWidth": 1.5},
          "encoding": {"x": {"field": "t", "type": "quantitative", "scale": {"domain": [0, 700], "nice": false, "zero": false}, "axis": null}, "y": {"datum": 0, "type": "quantitative", "scale": {"domain": [0, 0.14], "nice": false, "zero": false}, "axis": null}, "y2": {"datum": 0.0023}}},
        {"data": {"name": "lxmin"}, "mark": {"type": "rule", "color": "black", "strokeWidth": 1.5},
          "encoding": {"x": {"field": "t", "type": "quantitative", "scale": {"domain": [0, 700], "nice": false, "zero": false}, "axis": null}, "y": {"datum": 0.14, "type": "quantitative", "scale": {"domain": [0, 0.14], "nice": false, "zero": false}, "axis": null}, "y2": {"datum": 0.1377}}},
        {"data": {"name": "lymaj"}, "mark": {"type": "rule", "color": "black", "strokeWidth": 1.5},
          "encoding": {"y": {"field": "t", "type": "quantitative", "scale": {"domain": [0, 0.14], "nice": false, "zero": false}, "axis": null}, "x": {"datum": 0, "type": "quantitative", "scale": {"domain": [0, 700], "nice": false, "zero": false}, "axis": null}, "x2": {"datum": 15.3}}},
        {"data": {"name": "lymaj"}, "mark": {"type": "rule", "color": "black", "strokeWidth": 1.5},
          "encoding": {"y": {"field": "t", "type": "quantitative", "scale": {"domain": [0, 0.14], "nice": false, "zero": false}, "axis": null}, "x": {"datum": 700, "type": "quantitative", "scale": {"domain": [0, 700], "nice": false, "zero": false}, "axis": null}, "x2": {"datum": 684.7}}},
        {"data": {"name": "lymin"}, "mark": {"type": "rule", "color": "black", "strokeWidth": 1.5},
          "encoding": {"y": {"field": "t", "type": "quantitative", "scale": {"domain": [0, 0.14], "nice": false, "zero": false}, "axis": null}, "x": {"datum": 0, "type": "quantitative", "scale": {"domain": [0, 700], "nice": false, "zero": false}, "axis": null}, "x2": {"datum": 8.3}}},
        {"data": {"name": "lymin"}, "mark": {"type": "rule", "color": "black", "strokeWidth": 1.5},
          "encoding": {"y": {"field": "t", "type": "quantitative", "scale": {"domain": [0, 0.14], "nice": false, "zero": false}, "axis": null}, "x": {"datum": 700, "type": "quantitative", "scale": {"domain": [0, 700], "nice": false, "zero": false}, "axis": null}, "x2": {"datum": 691.7}}}
      ]
    },
    {
      "width": 376,
      "height": 364,
      "title": {"text": "(b)", "orient": "bottom", "anchor": "middle", "dx": -33, "offset": -7, "font": "Liberation Serif", "fontSize": 19, "fontWeight": "normal", "color": "black"},
      "resolve": {"axis": {"x": "independent", "y": "independent"}},
      "layer": [
        {
          "data": {"name": "hist"},
          "mark": {"type": "bar", "stroke": "black", "strokeWidth": 1.5},
          "encoding": {
            "x": {"field": "lo", "type": "quantitative", "bin": {"binned": true}, "scale": {"domain": [230, 360], "nice": false, "zero": false},
              "axis": {"orient": "bottom", "values": [240,260,280,300,320,340,360], "labelPadding": 4, "format": "d", "title": "V", "titleFontSize": 21, "titleAngle": 0, "titleAlign": "left", "titleBaseline": "alphabetic", "titleX": 272, "titleY": 54}},
            "x2": {"field": "hi"},
            "y": {"field": "n", "type": "quantitative", "stack": "zero", "scale": {"domain": [0, 270], "nice": false, "zero": false},
              "axis": {"orient": "left", "values": [0,50,100,150,200,250], "labelPadding": 2.7, "format": "d", "title": "No. of sensors / 10V", "titleFontSize": 21, "titleAnchor": "end", "titlePadding": 6}},
            "color": {"field": "cat", "type": "nominal",
              "scale": {"domain": ["R0","R1","R2","R3","R4","R5","SS","LS"], "range": ["#ff0000","#990000","#990099","#0011ff","#000066","#009900","#ffcc00","#ff6600"]},
              "legend": {"orient": "none", "legendX": 22.7, "legendY": 22, "title": "ATLAS18 Pre-Production", "titleFontSize": 16.5, "titleFontWeight": "normal", "titlePadding": 6, "titleLimit": 400, "labelFontSize": 17.5, "symbolType": "M-1,-0.8H2V0.8H-1Z", "symbolSize": 523, "symbolStrokeWidth": 0, "rowPadding": 5.4, "labelOffset": 17.4, "padding": 0}},
            "order": {"field": "k", "type": "quantitative"}
          }
        },
        {
          "data": {"values": [{}]},
          "mark": {"type": "rule", "strokeDash": [4, 4], "strokeWidth": 2, "color": "black"},
          "encoding": {
            "x": {"datum": 350, "type": "quantitative", "scale": {"domain": [230, 360], "nice": false, "zero": false},
              "axis": {"orient": "top", "offset": -364, "labels": false, "values": [240], "title": "depletion", "titleFontSize": 14, "titleAngle": 0, "titleAlign": "left", "titleBaseline": "alphabetic", "titleX": 287, "titleY": 60}},
            "y": {"datum": 0, "type": "quantitative", "scale": {"domain": [0, 270], "nice": false, "zero": false}, "axis": null},
            "y2": {"datum": 270}
          }
        },
        {
          "data": {"values": [{}]},
          "mark": {"type": "text", "text": ""},
          "encoding": {
            "x": {"datum": 300, "type": "quantitative", "scale": {"domain": [230, 360], "nice": false, "zero": false},
              "axis": {"orient": "bottom", "offset": -364, "labels": false, "values": [240], "title": "[V]", "titleFontSize": 21, "titleAngle": 0, "titleAlign": "left", "titleBaseline": "alphabetic", "titleX": 350, "titleY": 418}},
            "y": {"datum": 100, "type": "quantitative", "scale": {"domain": [0, 270], "nice": false, "zero": false}, "axis": null}
          }
        },
        {"data": {"name": "rxmaj"}, "mark": {"type": "rule", "color": "black", "strokeWidth": 1.5},
          "encoding": {"x": {"field": "t", "type": "quantitative", "scale": {"domain": [230, 360], "nice": false, "zero": false}, "axis": null}, "y": {"datum": 0, "type": "quantitative", "scale": {"domain": [0, 270], "nice": false, "zero": false}, "axis": null}, "y2": {"datum": 8.2}}},
        {"data": {"name": "rxmaj"}, "mark": {"type": "rule", "color": "black", "strokeWidth": 1.5},
          "encoding": {"x": {"field": "t", "type": "quantitative", "scale": {"domain": [230, 360], "nice": false, "zero": false}, "axis": null}, "y": {"datum": 270, "type": "quantitative", "scale": {"domain": [0, 270], "nice": false, "zero": false}, "axis": null}, "y2": {"datum": 261.8}}},
        {"data": {"name": "rxmin"}, "mark": {"type": "rule", "color": "black", "strokeWidth": 1.5},
          "encoding": {"x": {"field": "t", "type": "quantitative", "scale": {"domain": [230, 360], "nice": false, "zero": false}, "axis": null}, "y": {"datum": 0, "type": "quantitative", "scale": {"domain": [0, 270], "nice": false, "zero": false}, "axis": null}, "y2": {"datum": 4.5}}},
        {"data": {"name": "rxmin"}, "mark": {"type": "rule", "color": "black", "strokeWidth": 1.5},
          "encoding": {"x": {"field": "t", "type": "quantitative", "scale": {"domain": [230, 360], "nice": false, "zero": false}, "axis": null}, "y": {"datum": 270, "type": "quantitative", "scale": {"domain": [0, 270], "nice": false, "zero": false}, "axis": null}, "y2": {"datum": 265.5}}},
        {"data": {"name": "rymaj"}, "mark": {"type": "rule", "color": "black", "strokeWidth": 1.5},
          "encoding": {"y": {"field": "t", "type": "quantitative", "scale": {"domain": [0, 270], "nice": false, "zero": false}, "axis": null}, "x": {"datum": 230, "type": "quantitative", "scale": {"domain": [230, 360], "nice": false, "zero": false}, "axis": null}, "x2": {"datum": 233.8}}},
        {"data": {"name": "rymaj"}, "mark": {"type": "rule", "color": "black", "strokeWidth": 1.5},
          "encoding": {"y": {"field": "t", "type": "quantitative", "scale": {"domain": [0, 270], "nice": false, "zero": false}, "axis": null}, "x": {"datum": 360, "type": "quantitative", "scale": {"domain": [230, 360], "nice": false, "zero": false}, "axis": null}, "x2": {"datum": 356.2}}},
        {"data": {"name": "rymin"}, "mark": {"type": "rule", "color": "black", "strokeWidth": 1.5},
          "encoding": {"y": {"field": "t", "type": "quantitative", "scale": {"domain": [0, 270], "nice": false, "zero": false}, "axis": null}, "x": {"datum": 230, "type": "quantitative", "scale": {"domain": [230, 360], "nice": false, "zero": false}, "axis": null}, "x2": {"datum": 232.1}}},
        {"data": {"name": "rymin"}, "mark": {"type": "rule", "color": "black", "strokeWidth": 1.5},
          "encoding": {"y": {"field": "t", "type": "quantitative", "scale": {"domain": [0, 270], "nice": false, "zero": false}, "axis": null}, "x": {"datum": 360, "type": "quantitative", "scale": {"domain": [230, 360], "nice": false, "zero": false}, "axis": null}, "x2": {"datum": 357.9}}}
      ]
    }
  ]
}
